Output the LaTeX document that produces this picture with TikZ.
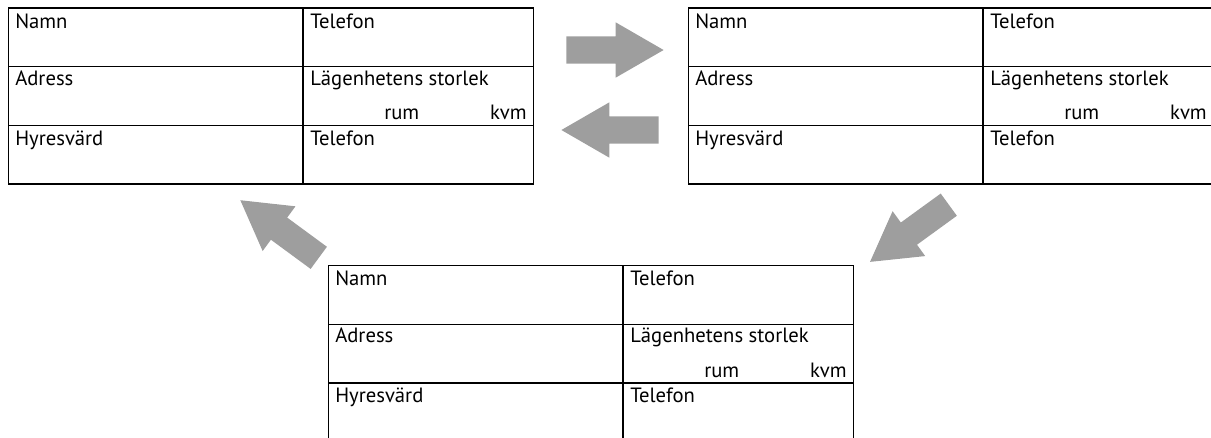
\documentclass[tikz,border=0pt]{standalone}
\usepackage{fontspec}
\setmainfont{PT Sans}
\usepackage{tikz}
\usetikzlibrary{shapes.arrows,positioning}
\definecolor{pilgray}{RGB}{158,158,158}
\tikzstyle{formbox} = [rectangle, draw=black, line width=1pt, minimum width=393.75pt, minimum height=132pt, inner sep=0pt, anchor=north west]
\tikzstyle{cell} = [inner sep=0pt, anchor=base west, font=\fontsize{15.5pt}{18pt}\selectfont]
\tikzstyle{blockpil} = [single arrow, fill=pilgray, draw=none, minimum height=73pt, minimum width=41pt, single arrow head extend=10.5pt, single arrow tip angle=60, inner xsep=0pt, inner ysep=10.1pt, anchor=tail]

% one form: name, x, y (pixel units)
\newcommand{\hyresform}[3]{%
  \node[formbox] (#1) at (#2,#3) {};
  \draw[line width=1pt] ([shift={(295,0)}]#1.north west) -- ([shift={(295,0)}]#1.south west);
  \draw[line width=1pt] ([shift={(0,59.5)}]#1.north west) -- ([shift={(0,59.5)}]#1.north east);
  \draw[line width=1pt] ([shift={(0,118)}]#1.north west) -- ([shift={(0,118)}]#1.north east);
  \node[cell] (#1namn) at ([shift={(7,20.7)}]#1.north west) {Namn};
  \node[cell] (#1tel) at ([shift={(302,20.7)}]#1.north west) {Telefon};
  \node[cell] (#1adr) at ([shift={(7,77.7)}]#1.north west) {Adress};
  \node[cell] (#1stl) at ([shift={(302,77.7)}]#1.north west) {Lägenhetens storlek};
  \node[cell] (#1rum) at ([shift={(376,112)}]#1.north west) {rum};
  \node[cell, anchor=base east] (#1kvm) at ([shift={(519,112)}]#1.north west) {kvm};
  \node[cell] (#1hyr) at ([shift={(7,137.7)}]#1.north west) {Hyresvärd};
  \node[cell] (#1tel2) at ([shift={(302,137.7)}]#1.north west) {Telefon};
}

\begin{document}
\begin{tikzpicture}[x=0.75pt, y=-0.75pt]
\clip (0,0) rectangle (1211,437);

% the three forms
\hyresform{f1}{8}{7.3}
\hyresform{f2}{688}{7.3}
\hyresform{f3}{328}{265}

% gray block arrows (placed by their tails)
\node[blockpil] (pil1) at (566,50) {};
\node[blockpil, rotate=180] (pil2) at (659,130) {};
\node[blockpil, rotate=216] (pil3) at (949,204.5) {};
\node[blockpil, rotate=143.7] (pil4) at (319,258) {};
\end{tikzpicture}
\end{document}
